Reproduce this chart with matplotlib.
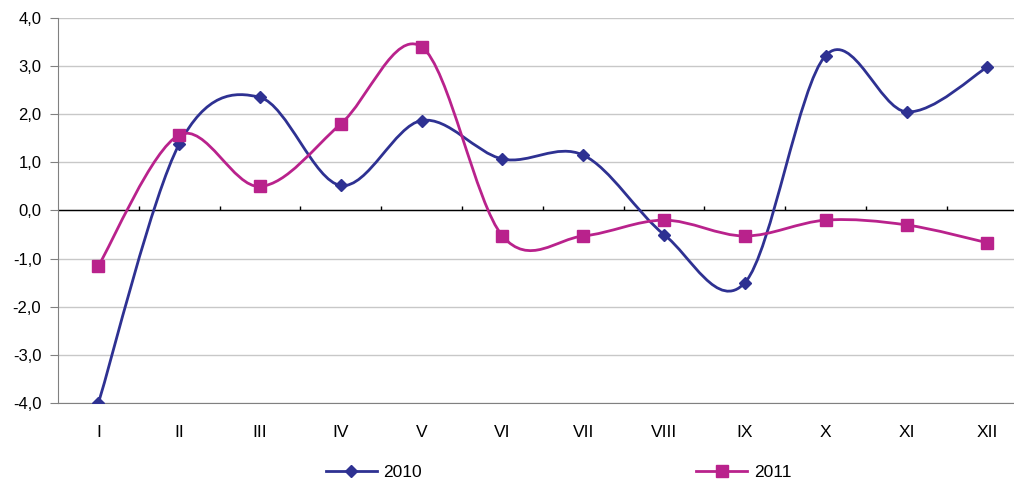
import numpy as np
import matplotlib
matplotlib.use('Agg')
import matplotlib.pyplot as plt
from matplotlib.path import Path
from matplotlib.patches import PathPatch
from matplotlib.lines import Line2D

plt.rcParams['font.family'] = ['Liberation Sans', 'DejaVu Sans']

months = ['I', 'II', 'III', 'IV', 'V', 'VI', 'VII', 'VIII', 'IX', 'X', 'XI', 'XII']
v2010 = [-4.0, 1.38, 2.35, 0.52, 1.87, 1.07, 1.15, -0.5, -1.5, 3.22, 2.05, 2.98]
v2011 = [-1.15, 1.57, 0.5, 1.8, 3.4, -0.53, -0.53, -0.2, -0.53, -0.2, -0.3, -0.67]
yticks = [-4, -3, -2, -1, 0, 1, 2, 3, 4]

c2010 = '#2e3192'
c2011 = '#b9228c'


def smooth_path(x, y, t=1/6):
    # Excel-like smoothed line: cubic bezier segments (Catmull-Rom tangents)
    p = np.column_stack([x, y]).astype(float)
    n = len(p)
    verts = [p[0]]
    codes = [Path.MOVETO]
    for i in range(n - 1):
        p0 = p[i - 1] if i > 0 else p[i]
        p3 = p[i + 2] if i + 2 < n else p[i + 1]
        c1 = p[i] + (p[i + 1] - p0) * t
        c2 = p[i + 1] - (p3 - p[i]) * t
        verts += [c1, c2, p[i + 1]]
        codes += [Path.CURVE4] * 3
    return Path(verts, codes)


fig = plt.figure(figsize=(10.14, 4.86), dpi=100)
ax = fig.add_axes([58/1014, 83/486, 956/1014, 385/486])

x = np.arange(len(months))
for vals, col, mk, ms in [(v2010, c2010, 'D', 6), (v2011, c2011, 's', 8.5)]:
    ax.add_patch(PathPatch(smooth_path(x, vals), facecolor='none', edgecolor=col,
                           lw=2, zorder=3, capstyle='round', joinstyle='round'))
    ax.plot(x, vals, ls='none', marker=mk, ms=ms, color=col, zorder=4)

ax.set_xlim(-0.5, 11.33)
ax.set_ylim(-4, 4)

ax.set_yticks(yticks)
ax.set_yticklabels([f'{v:.1f}'.replace('.', ',') for v in yticks], fontsize=12)
ax.tick_params(axis='y', length=6, color='#808080', pad=6)
ax.grid(axis='y', color='#c8c8c8', lw=1)
ax.set_axisbelow(True)

ax.set_xticks(x)
ax.set_xticklabels(months, fontsize=12.5)
ax.tick_params(axis='x', length=0, pad=16)

for s in ['top', 'right']:
    ax.spines[s].set_visible(False)
ax.spines['left'].set_color('#808080')
ax.spines['bottom'].set_color('#808080')

# category axis crossing at zero, small ticks pointing up between months
ax.axhline(0, color='black', lw=1, zorder=2)
ax.vlines(np.arange(0.5, 12, 1), 0, 0.1, color='black', lw=1, zorder=2)

handles = [Line2D([], [], color=c2010, lw=2, marker='D', ms=6),
           Line2D([], [], color=c2011, lw=2, marker='s', ms=8.5)]
fig.legend(handles, ['2010', '2011'], loc='center', bbox_to_anchor=(0.551, 0.027),
           ncol=2, frameon=False, fontsize=12.5, columnspacing=15.8, handlelength=2.9,
           handletextpad=0.4)

fig.savefig('out.png', dpi=100)
